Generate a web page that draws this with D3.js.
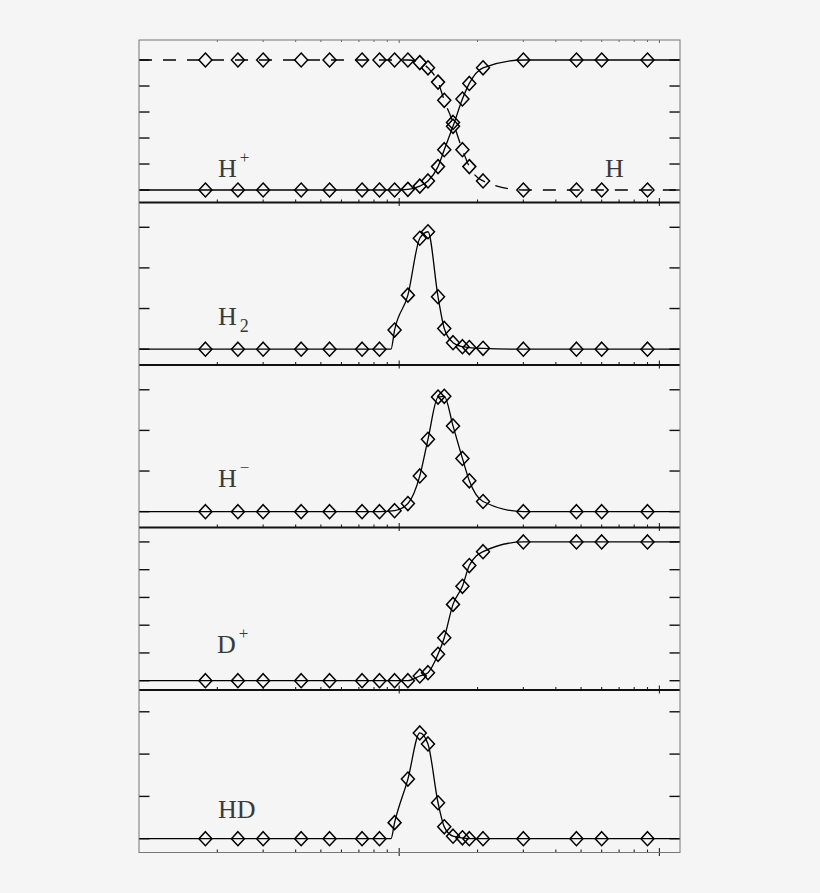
<!DOCTYPE html>
<html>
<head>
<meta charset="utf-8">
<script src="https://cdn.jsdelivr.net/npm/d3@7"></script>
<style>
  html, body { margin: 0; padding: 0; background: #f5f5f5; }
  svg { display: block; }
  .label { font-family: "Liberation Serif", "DejaVu Serif", serif; fill: #3a3a3a; }
</style>
</head>
<body>
<svg width="820" height="893"></svg>
<script>
// sample points (log x axis, no labels in the original)
const temps  = [1.8, 2.4, 3.0, 4.2, 5.4, 7.2, 8.4, 9.6, 10.8, 12.0, 12.9, 14.1, 14.9, 16.1, 17.5, 18.6, 21.0, 30, 48, 60, 90];

const hPlus  = [0, 0, 0, 0, 0, 0, 0, 0, 0.005, 0.03, 0.07, 0.18, 0.31, 0.49, 0.70, 0.82, 0.94, 1, 1, 1, 1];
const hAtom  = [1, 1, 1, 1, 1, 1, 1, 1, 1, 0.98, 0.94, 0.83, 0.69, 0.52, 0.31, 0.18, 0.07, 0, 0, 0, 0];
const h2     = [0, 0, 0, 0, 0, 0, 0, 0.47, 1.33, 2.73, 2.89, 1.29, 0.51, 0.16, 0.06, 0.04, 0.02, 0, 0, 0, 0];
const hMinus = [0, 0, 0, 0, 0, 0, 0, 0.025, 0.2, 0.88, 1.78, 2.82, 2.84, 2.11, 1.31, 0.76, 0.25, 0, 0, 0, 0];
const dPlus  = [0, 0, 0, 0, 0, 0, 0, 0, 0, 0.034, 0.058, 0.19, 0.31, 0.55, 0.68, 0.83, 0.93, 1, 1, 1, 1];
const hd     = [0, 0, 0, 0, 0, 0, 0, 0.38, 1.41, 2.50, 2.24, 0.85, 0.28, 0.06, 0.02, 0, 0, 0, 0, 0, 0];

// where the model curve leaves zero before the first rising point
const h2Knee = [[9.3, 0]];
const hdKnee = [[9.3, 0]];

const fracTicks  = [0, 0.2, 0.4, 0.6, 0.8, 1.0];
const abundTicks = [0, 1, 2, 3];

const xDomain = [1, 120];

const plotL = 139, plotR = 680, plotT = 40, panelH = 162.5;

const panels = [
    {series: [{values: hPlus, dash: null}, {values: hAtom, dash: "13,11"}],
     domain: [-0.096, 1.154], ticks: fracTicks,
     labels: [{x: 218, text: "H", sup: "+"}, {x: 605, text: "H"}], labelY: 137},
    {series: [{values: h2, knee: h2Knee}],
     domain: [-0.39, 3.61], ticks: abundTicks,
     labels: [{x: 218, text: "H", sub: "2"}], labelY: 122.5},
    {series: [{values: hMinus}],
     domain: [-0.39, 3.61], ticks: abundTicks,
     labels: [{x: 218, text: "H", sup: "\u2212"}], labelY: 122},
    {series: [{values: dPlus}],
     domain: [-0.067, 1.104], ticks: fracTicks,
     labels: [{x: 217, text: "D", sup: "+"}], labelY: 125.5},
    {series: [{values: hd, knee: hdKnee}],
     domain: [-0.326, 3.515], ticks: abundTicks,
     labels: [{x: 218, text: "HD"}], labelY: 128}
];

const svg = d3.select("svg");

const x = d3.scaleLog().domain(xDomain).range([plotL, plotR]);
const xTicks = x.ticks().filter(t => t > xDomain[0] && t < xDomain[1]);
const isMajor = t => Math.abs(Math.log10(t) - Math.round(Math.log10(t))) < 1e-9;

const diamond = "M0,-7L6.5,0L0,7L-6.5,0Z";

panels.forEach((p, i) => {
    const y0 = plotT + i * panelH;
    const y1 = y0 + panelH;
    const y = d3.scaleLinear().domain(p.domain).range([y1, y0]);
    const g = svg.append("g").attr("class", "panel");

    // y ticks, both sides, pointing in
    g.selectAll("line.ytl")
        .data(p.ticks)
        .join("line")
        .attr("class", "ytl")
        .attr("x1", plotL).attr("x2", plotL + 10.5)
        .attr("y1", d => y(d)).attr("y2", d => y(d))
        .attr("stroke", "#111").attr("stroke-width", 1.4);

    g.selectAll("line.ytr")
        .data(p.ticks)
        .join("line")
        .attr("class", "ytr")
        .attr("x1", plotR - 10.5).attr("x2", plotR)
        .attr("y1", d => y(d)).attr("y2", d => y(d))
        .attr("stroke", "#111").attr("stroke-width", 1.4);

    // log ticks along the bottom of every panel
    g.selectAll("line.xt")
        .data(xTicks)
        .join("line")
        .attr("class", "xt")
        .attr("x1", d => x(d)).attr("x2", d => x(d))
        .attr("y1", d => isMajor(d) ? y1 - 4.5 : y1 - 3)
        .attr("y2", d => isMajor(d) ? y1 + 3.5 : y1)
        .attr("stroke", "#222").attr("stroke-width", 1.1);

    if (i === 0) {
        g.selectAll("line.xtop")
            .data(xTicks)
            .join("line")
            .attr("class", "xtop")
            .attr("x1", d => x(d)).attr("x2", d => x(d))
            .attr("y1", y0)
            .attr("y2", d => isMajor(d) ? y0 + 3 : y0 + 2)
            .attr("stroke", "#666").attr("stroke-width", 1);
    }

    const line = d3.line()
        .x(d => x(d[0]))
        .y(d => y(d[1]))
        .curve(d3.curveMonotoneX);

    p.series.forEach(s => {
        const pts = temps.map((t, k) => [t, s.values[k]]);
        const full = [[xDomain[0], s.values[0]], ...pts, ...(s.knee || []), [xDomain[1], s.values[s.values.length - 1]]]
            .sort((a, b) => a[0] - b[0]);

        g.append("path")
            .datum(full)
            .attr("d", line)
            .attr("fill", "none")
            .attr("stroke", "#000")
            .attr("stroke-width", 1.3)
            .attr("stroke-dasharray", s.dash);

        g.selectAll(null)
            .data(pts)
            .join("path")
            .attr("d", diamond)
            .attr("transform", d => `translate(${x(d[0])},${y(d[1])})`)
            .attr("fill", "none")
            .attr("stroke", "#000")
            .attr("stroke-width", 1.5);
    });

    // species labels
    p.labels.forEach(l => {
        const t = g.append("text")
            .attr("class", "label")
            .attr("x", l.x)
            .attr("y", y0 + p.labelY)
            .attr("font-size", 26)
            .text(l.text);
        if (l.sup) t.append("tspan").attr("dx", 3).attr("dy", -14).attr("font-size", 17).text(l.sup);
        if (l.sub) t.append("tspan").attr("dx", 3).attr("dy", 7).attr("font-size", 18).text(l.sub);
    });

    // separator between panels
    if (i < panels.length - 1) {
        g.append("line")
            .attr("x1", plotL).attr("x2", plotR)
            .attr("y1", y1).attr("y2", y1)
            .attr("stroke", "#111").attr("stroke-width", 2);
    }
});

// outer frame
svg.append("rect")
    .attr("x", plotL).attr("y", plotT)
    .attr("width", plotR - plotL)
    .attr("height", panelH * panels.length)
    .attr("fill", "none")
    .attr("stroke", "#777")
    .attr("stroke-width", 1);
</script>
</body>
</html>
